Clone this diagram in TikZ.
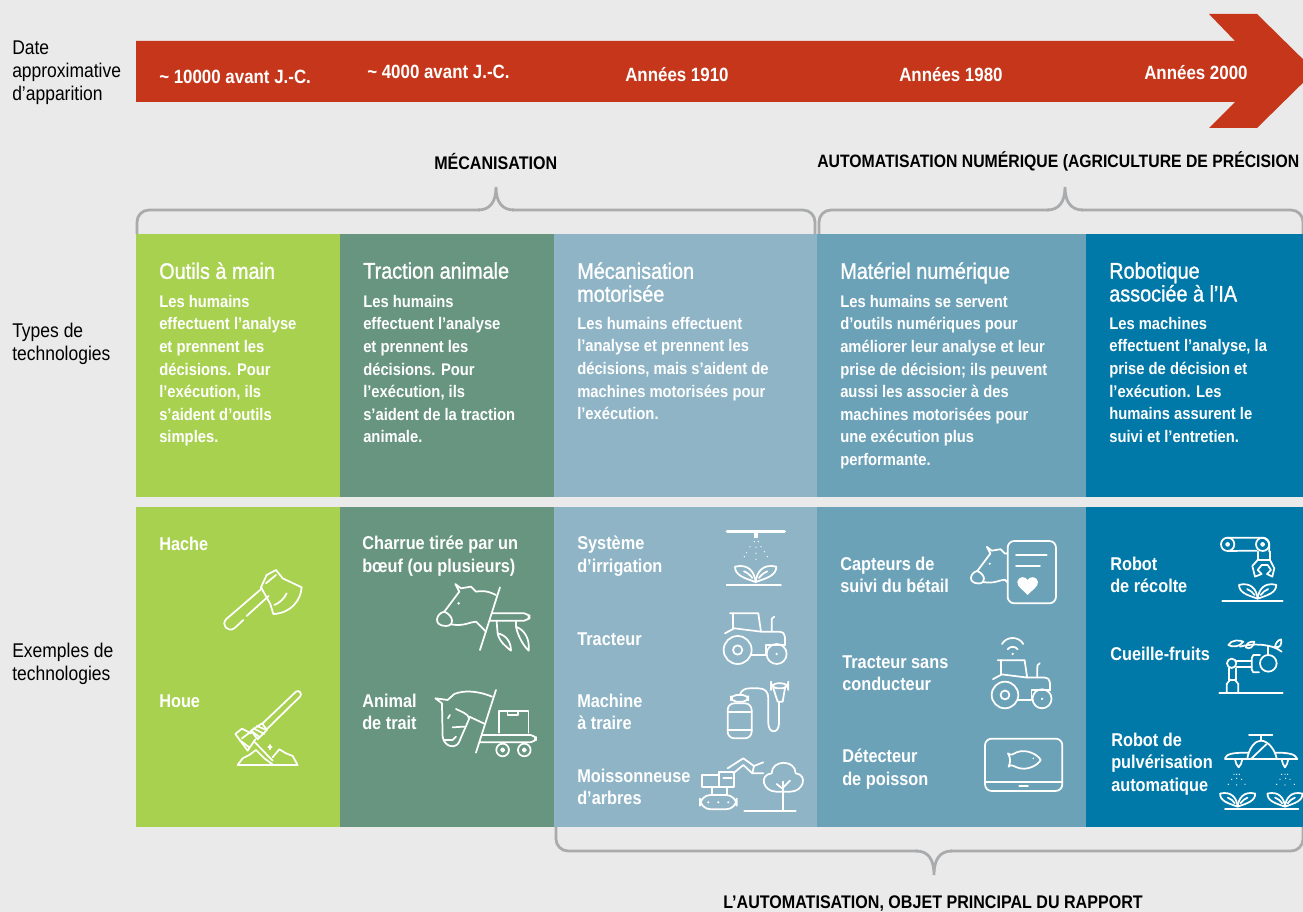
\documentclass[tikz,border=0pt]{standalone}
\usepackage{fontspec}
\setmainfont[FakeStretch=0.88]{Liberation Sans}
\newfontfamily\headfont[FakeStretch=0.88,FakeBold=1.2]{Liberation Sans}
\usepackage{tikz}
\usetikzlibrary{positioning}
\definecolor{pagegrey}{HTML}{EAEAEA}
\definecolor{arrowred}{HTML}{C6361A}
\definecolor{bracegrey}{HTML}{A9ABAD}
\definecolor{toolgreen}{HTML}{A8D14F}
\definecolor{oxgreen}{HTML}{67957F}
\definecolor{motorblue}{HTML}{8FB4C6}
\definecolor{digitalblue}{HTML}{6CA2B8}
\definecolor{robotblue}{HTML}{0079A8}
\tikzset{iconline/.style={draw=white,line width=1.3pt,line cap=round,line join=round}}
\tikzset{
plant/.pic={
\draw[iconline] (0,0) .. controls (-3,-30) and (-22,-56) .. (-62,-46) .. controls (-62,-20) and (-35,-12) .. (0,0);
\draw[iconline] (0,0) .. controls (3,-30) and (22,-56) .. (62,-46) .. controls (62,-20) and (35,-12) .. (0,0);
\draw[iconline] (-35,-32) .. controls (-25,-28) and (-15,-20) .. (-10,-12);
\draw[iconline] (35,-32) .. controls (25,-28) and (15,-20) .. (10,-12);
},
tractor/.pic={
\draw[iconline] (0,0) circle[radius=42];
\draw[iconline] (0,0) circle[radius=14];
\draw[iconline] (117,12) circle[radius=30];
\fill[white] (117,12) circle[radius=4];
\draw[iconline] (-23,-110) -- (62,-110) -- (70,-55);
\draw[iconline] (-13,-110) -- (-13,-65);
\draw[iconline] (-38,-50) .. controls (-25,-60) .. (-10,-65) -- (70,-55) -- (125,-55) .. controls (138,-52) .. (142,-38) -- (142,-15);
\draw[iconline] (42,15) -- (84,15) -- (84,-15) -- (142,-15);
\draw[iconline] (102,-55) -- (102,-85) .. controls (102,-95) .. (110,-100);
},
cowhead/.pic={
\draw[iconline] (155,-73) .. controls (125,-88) and (110,-85) .. (95,-83) -- (80,-98) -- (50,-93) -- (33,-106) -- (45,-83) -- (0,-23);
\draw[iconline] (20,15) .. controls (60,22) and (75,8) .. (95,7) -- (125,37);
\draw[iconline] (0,-23) .. controls (-25,-18) and (-35,20) .. (5,20) .. controls (30,20) and (30,-10) .. (0,-23);
\fill[white] (43,-48) circle[radius=4];
}}
\begin{document}
\begin{tikzpicture}[x=0.75pt,y=-0.75pt,
legend/.style={inner sep=0pt,align=left,anchor=west,font=\fontsize{14.9}{17.25}\selectfont},
datetext/.style={inner sep=0pt,anchor=west,white,font=\fontsize{14.4}{16}\bfseries\selectfont},
phasetext/.style={inner sep=0pt,anchor=west,black,font=\fontsize{13.7}{16}\bfseries\selectfont},
panel/.style={inner sep=0pt,outer sep=0pt,anchor=north west,minimum height=#1*0.75pt},
headtext/.style={inner sep=0pt,anchor=north west,align=left,white,font=\fontsize{16.9}{17.2}\headfont\selectfont},
bodytext/.style={inner sep=0pt,anchor=north west,align=left,white,font=\fontsize{12.6}{16.9}\bfseries\selectfont},
itemtext/.style={inner sep=0pt,anchor=west,align=left,white,font=\fontsize{13.9}{16.9}\bfseries\selectfont},
bracket/.style={draw=bracegrey,line width=2.1pt,rounded corners=9pt},
zoomA/.style={shift={(136,510)},scale=0.3333},
zoomB/.style={shift={(555,510)},scale=0.3333},
zoomC/.style={shift={(820,510)},scale=0.3333},
zoomD/.style={shift={(1085,510)},scale=0.3333},
]
\useasboundingbox (0,0) rectangle (1303,912);
\fill[pagegrey] (0,0) rectangle (1303,912);

%Arrow
\fill[arrowred] (136,41) -- (1235,41) -- (1209,14) -- (1257,14) -- (1315,71) -- (1257,128) -- (1209,128) -- (1235,102) -- (136,102) -- cycle;

%Panels
\node[panel=263,fill=toolgreen,minimum width=153pt] (toolstop) at (136,234) {};
\node[panel=263,fill=oxgreen,minimum width=160.5pt] (oxtop) at (340,234) {};
\node[panel=263,fill=motorblue,minimum width=197.25pt] (motortop) at (554,234) {};
\node[panel=263,fill=digitalblue,minimum width=201.75pt] (digitaltop) at (817,234) {};
\node[panel=263,fill=robotblue,minimum width=162.75pt] (robottop) at (1086,234) {};
\node[panel=320,fill=toolgreen,minimum width=153pt] (toolsbottom) at (136,507) {};
\node[panel=320,fill=oxgreen,minimum width=160.5pt] (oxbottom) at (340,507) {};
\node[panel=320,fill=motorblue,minimum width=197.25pt] (motorbottom) at (554,507) {};
\node[panel=320,fill=digitalblue,minimum width=201.75pt] (digitalbottom) at (817,507) {};
\node[panel=320,fill=robotblue,minimum width=162.75pt] (robotbottom) at (1086,507) {};

%Brackets
\draw[bracket] (137,234) -- (137,210) -- (496,210);
\draw[bracket] (815,234) -- (815,210) -- (496,210);
\draw[draw=pagegrey,line width=3pt] (480,210) -- (512,210);
\draw[draw=bracegrey,line width=2.1pt] (478,210) .. controls (490,210) and (496,202) .. (496,187) .. controls (496,202) and (502,210) .. (514,210);
\draw[bracket] (819,234) -- (819,210) -- (1065,210);
\draw[bracket] (1303,234) -- (1303,210) -- (1065,210);
\draw[draw=pagegrey,line width=3pt] (1049,210) -- (1081,210);
\draw[draw=bracegrey,line width=2.1pt] (1047,210) .. controls (1059,210) and (1065,202) .. (1065,187) .. controls (1065,202) and (1071,210) .. (1083,210);
\draw[bracket] (556,827) -- (556,851) -- (934,851);
\draw[bracket] (1303,827) -- (1303,851) -- (934,851);
\draw[draw=pagegrey,line width=3pt] (918,851) -- (950,851);
\draw[draw=bracegrey,line width=2.1pt] (916,851) .. controls (928,851) and (934,859) .. (934,875) .. controls (934,859) and (940,851) .. (952,851);

%Left column
\node[legend] (datelabel) at (12,73) {Date\\approximative\\d’apparition};
\node[legend] (typeslabel) at (12,344) {Types de\\technologies};
\node[legend] (exampleslabel) at (12,664) {Exemples de\\technologies};

%Dates
\node[datetext] (date1) at (159,77) {\textasciitilde{} 10000 avant J.-C.};
\node[datetext] (date2) at (367,72) {\textasciitilde{} 4000 avant J.-C.};
\node[datetext] (date3) at (625,75) {Années 1910};
\node[datetext] (date4) at (899,75) {Années 1980};
\node[datetext] (date5) at (1144,73) {Années 2000};

%Phases
\node[phasetext] (phase1) at (434,161) {MÉCANISATION};
\node[phasetext,font=\fontsize{13.45}{16}\bfseries\selectfont] (phase2) at (817,161) {AUTOMATISATION NUMÉRIQUE (AGRICULTURE DE PRÉCISION};
\node[phasetext] (phase3) at (723,904) {L’AUTOMATISATION, OBJET PRINCIPAL DU RAPPORT};

%Headings and texts
\node[headtext] (head1) at (159,262) {Outils à main};
\node[bodytext] (body1) at (159,295) {Les humains\\effectuent l’analyse\\et prennent les\\décisions. Pour\\l’exécution, ils\\s’aident d’outils\\simples.};
\node[headtext] (head2) at (363,262) {Traction animale};
\node[bodytext] (body2) at (363,295) {Les humains\\effectuent l’analyse\\et prennent les\\décisions. Pour\\l’exécution, ils\\s’aident de la traction\\animale.};
\node[headtext] (head3) at (577,262) {Mécanisation\\motorisée};
\node[bodytext] (body3) at (577,317) {Les humains effectuent\\l’analyse et prennent les\\décisions, mais s’aident de\\machines motorisées pour\\l’exécution.};
\node[headtext] (head4) at (840,262) {Matériel numérique};
\node[bodytext] (body4) at (840,295) {Les humains se servent\\d’outils numériques pour\\améliorer leur analyse et leur\\prise de décision; ils peuvent\\aussi les associer à des\\machines motorisées pour\\une exécution plus\\performante.};
\node[headtext] (head5) at (1109,262) {Robotique\\associée à l’IA};
\node[bodytext] (body5) at (1109,317) {Les machines\\effectuent l’analyse, la\\prise de décision et\\l’exécution. Les\\humains assurent le\\suivi et l’entretien.};

%Examples
\node[itemtext] (hache) at (159,544) {Hache};
\node[itemtext] (houe) at (159,701) {Houe};
\node[itemtext] (charrue) at (362,556) {Charrue tirée par un\\bœuf (ou plusieurs)};
\node[itemtext] (trait) at (362,712) {Animal\\de trait};
\node[itemtext] (irrigation) at (577,556) {Système\\d’irrigation};
\node[itemtext] (tracteur) at (577,639) {Tracteur};
\node[itemtext] (traire) at (577,712) {Machine\\à traire};
\node[itemtext] (moisson) at (577,787) {Moissonneuse\\d’arbres};
\node[itemtext] (capteurs) at (840,575) {Capteurs de\\suivi du bétail};
\node[itemtext] (sansconducteur) at (842,673) {Tracteur sans\\conducteur};
\node[itemtext] (poisson) at (842,769) {Détecteur\\de poisson};
\node[itemtext] (recolte) at (1110,575) {Robot\\de récolte};
\node[itemtext] (cueille) at (1110,654) {Cueille-fruits};
\node[itemtext] (pulverisation) at (1111,764) {Robot de\\pulvérisation\\automatique};

%Axe and hoe
\begin{scope}[zoomA]
\draw[iconline] (375,232) -- (392,195) -- (420,180) -- (440,205) -- (497,232) .. controls (495,270) and (465,310) .. (412,312) -- (403,282) -- cycle;
\draw[iconline] (378,235) -- (270,328) .. controls (255,345) and (275,368) .. (295,355) -- (322,330);
\draw[iconline] (332,318) -- (398,258);
\draw[iconline] (452,250) .. controls (445,265) and (430,280) .. (415,285);
\draw[iconline] (390,220) -- (420,195);
\draw[iconline] (378,642) -- (480,545) .. controls (490,538) and (500,552) .. (492,560) -- (393,657);
\draw[iconline] (345,662) -- (378,640) -- (393,660) -- (365,688) -- cycle;
\draw[iconline] (352,655) -- (385,672) (345,662) -- (372,682) (362,648) -- (392,660);
\draw[iconline] (298,672) -- (318,656) -- (345,670) (298,672) -- (335,722) -- (358,688);
\draw[iconline] (318,685) -- (345,665) (310,690) -- (340,712);
\draw[iconline] (355,695) -- (410,752);
\draw[iconline] (305,765) -- (485,765) -- (470,738) -- (450,730) -- (430,718) -- (410,742);
\draw[iconline] (305,765) -- (320,745) -- (340,735) -- (360,720) -- (385,745) -- (412,765);
\draw[iconline] (402,705) -- (402,718) (397,710) -- (407,710);
\end{scope}

%Ox and horse
\begin{scope}[zoomA]
\pic[scale=0.3333] at (925,328) {cowhead};
\draw[iconline] (1092,232) -- (1032,420);
\draw[iconline,rounded corners=4pt] (1068,310) -- (1181,310) -- (1181,332) -- (1062,332);
\draw[iconline] (1082,335) -- (1085,370) .. controls (1110,375) and (1125,395) .. (1125,422) .. controls (1110,410) and (1090,395) .. (1085,370);
\draw[iconline] (1140,335) -- (1140,350) .. controls (1165,360) and (1182,385) .. (1178,422) .. controls (1160,405) and (1145,375) .. (1140,350);
\draw[iconline] (1068,560) .. controls (1020,540) and (980,542) .. (955,552) -- (935,570) -- (898,565) -- (918,580) -- (920,680) .. controls (925,712) and (960,718) .. (970,695) .. controls (980,670) and (990,650) .. (1000,625) .. controls (995,610) and (975,605) .. (960,597);
\draw[iconline] (1000,620) -- (1047,642);
\draw[iconline] (950,652) -- (985,650);
\draw[iconline] (925,690) -- (950,690) -- (960,680);
\draw[iconline] (936,625) -- (942,615);
\draw[iconline] (1080,540) -- (1020,728);
\draw[iconline,rounded corners=4pt] (1037,675) -- (1200,675) -- (1200,697) -- (1030,697);
\draw[iconline] (1088,668) -- (1088,603) -- (1178,603) -- (1178,668);
\draw[iconline] (1115,605) -- (1115,614) -- (1146,614) -- (1146,605);
\foreach \wheelx in {1100,1165} {
\draw[iconline] (\wheelx,720) circle[radius=19];
\draw[iconline] (\wheelx,720) circle[radius=5];
}
\end{scope}

%Motorised
\begin{scope}[zoomB]
\draw[iconline,line width=2.6pt] (517,65) -- (688,65);
\fill[white] (596,70) rectangle (610,85);
\foreach \sprayx/\sprayy in {598/95,610/95,585/110,603/112,618/110,575/128,603/130,628/125,568/140,603/148,637/140} {
\fill[white] (\sprayx,\sprayy) circle[radius=2];
}
\pic[scale=0.3333] at (602,216) {plant};
\draw[iconline] (515,224) -- (678,224);
\pic[scale=0.3333] at (548,420) {tractor};
\draw[iconline,rounded corners=5pt] (518,685) rectangle (590,580);
\draw[iconline,rounded corners=4pt] (528,575) rectangle (580,555);
\draw[iconline] (518,605) -- (590,605) (518,660) -- (590,660);
\draw[iconline] (555,553) .. controls (560,540) and (570,535) .. (585,535) -- (610,535) .. controls (630,535) and (640,545) .. (640,565) -- (640,640) .. controls (640,672) and (672,672) .. (672,640) -- (672,578);
\draw[iconline,rounded corners=5pt] (648,520) rectangle (700,535);
\draw[iconline] (655,535) -- (668,575) -- (683,575) -- (690,535);
\draw[iconline,rounded corners=8pt] (435,855) rectangle (545,898);
\foreach \trackx in {460,490,520} {
\fill[white] (\trackx,877) circle[radius=3.5];
}
\draw[iconline] (470,855) -- (470,835) (515,855) -- (515,835);
\draw[iconline] (440,795) rectangle (492,832);
\draw[iconline] (492,785) rectangle (538,832);
\draw[iconline] (505,805) -- (530,805);
\draw[iconline] (518,775) -- (565,745) -- (597,768) -- (625,757);
\draw[iconline] (535,790) -- (565,765) -- (592,790) -- (625,790);
\draw[iconline] (597,768) -- (592,790);
\draw[iconline] (663,845) .. controls (625,845) and (610,795) .. (650,790) .. controls (650,748) and (722,748) .. (722,790) .. controls (760,795) and (745,845) .. (707,845) -- cycle;
\draw[iconline] (685,900) -- (685,815);
\draw[iconline] (685,832) -- (705,812) (665,822) -- (685,838);
\draw[iconline] (568,902) -- (722,902);
\end{scope}

%Digital
\begin{scope}[zoomC]
\pic[scale=0.29] at (472,203) {cowhead};
\fill[digitalblue] (565,95) rectangle (615,278);
\draw[iconline,rounded corners=5pt] (563,93) rectangle (708,280);
\draw[iconline] (588,135) -- (680,135) (588,168) -- (660,168);
\fill[white] (623,255) .. controls (610,240) and (590,230) .. (592,215) .. controls (595,198) and (618,198) .. (623,210) .. controls (628,198) and (651,198) .. (654,215) .. controls (656,230) and (636,240) .. (623,255) -- cycle;
\pic[scale=0.3167] at (555,555) {tractor};
\fill[white] (578,432) circle[radius=4];
\draw[iconline] (563,418) .. controls (570,408) and (586,408) .. (593,418);
\draw[iconline] (546,402) .. controls (560,378) and (596,378) .. (610,402);
\draw[iconline,rounded corners=5pt] (495,686) rectangle (727,843);
\draw[iconline] (495,815) -- (727,815);
\draw[iconline] (598,828) -- (624,828);
\draw[iconline] (590,727) .. controls (620,715) and (655,735) .. (662,750) .. controls (655,765) and (620,785) .. (590,772) .. controls (580,768) and (572,762) .. (566,770) .. controls (572,755) and (572,745) .. (564,730) .. controls (572,738) and (580,732) .. (590,727);
\fill[white] (640,745) circle[radius=2.5];
\end{scope}

%Robots
\begin{scope}[zoomD]
\draw[iconline] (428,103) circle[radius=20];
\draw[iconline] (533,103) circle[radius=20];
\draw[iconline] (428,103) circle[radius=5];
\draw[iconline] (533,103) circle[radius=5];
\draw[iconline,rounded corners=6pt] (428,83) -- (553,83) -- (553,125);
\draw[iconline] (428,123) -- (515,122);
\draw[iconline] (520,125) -- (520,150) -- (555,150) -- (555,125);
\draw[iconline] (518,150) -- (502,168) -- (510,200) -- (530,192) -- (518,180) -- (530,165) -- (548,165) -- (558,180) -- (546,192) -- (562,200) -- (568,175) -- (555,150);
\pic[scale=0.3] at (518,266) {plant};
\draw[iconline] (412,273) -- (593,273);
\draw[iconline] (403,548) -- (593,548);
\draw[iconline] (425,548) -- (425,522) -- (435,510) -- (450,510) -- (460,522) -- (460,548);
\draw[iconline] (432,510) -- (432,475) (452,510) -- (452,475);
\draw[iconline] (440,460) circle[radius=14];
\draw[iconline] (455,452) -- (500,452) (455,470) -- (500,470);
\draw[iconline] (525,435) -- (505,435) -- (500,445) -- (500,478) -- (505,487) -- (522,487);
\draw[iconline] (550,460) circle[radius=25];
\draw[iconline] (550,435) -- (550,408);
\draw[iconline] (465,410) .. controls (500,400) and (560,400) .. (590,425);
\draw[iconline] (430,405) .. controls (440,388) and (465,390) .. (475,395) .. controls (465,412) and (440,412) .. (430,405);
\draw[iconline] (482,412) .. controls (485,398) and (495,395) .. (508,395) .. controls (505,410) and (495,420) .. (482,412);
\draw[iconline] (570,410) .. controls (572,398) and (580,390) .. (588,388) .. controls (592,400) and (585,418) .. (570,410);
\draw[iconline] (492,675) -- (562,675) (527,675) -- (527,692);
\draw[iconline] (487,745) .. controls (492,715) and (510,692) .. (527,692) .. controls (550,692) and (570,720) .. (575,745);
\draw[iconline] (500,745) -- (545,702);
\draw[iconline] (420,745) .. controls (425,732) and (440,728) .. (490,728);
\draw[iconline] (572,728) .. controls (610,728) and (630,732) .. (636,745);
\draw[iconline] (420,747) -- (637,747);
\draw[iconline] (450,748) -- (454,762) -- (461,772) -- (468,762) -- (472,748);
\draw[iconline] (590,748) -- (594,762) -- (600,772) -- (606,762) -- (610,748);
\foreach \dropx/\dropy in {447/793,455/793,463/793,440/808,455/805,470/808,430/823,455/825,480/823,590/793,600/793,608/793,585/808,602/805,615/808,575/823,600/825,628/823} {
\fill[white] (\dropx,\dropy) circle[radius=2];
}
\pic[scale=0.2833] at (458,890) {plant};
\pic[scale=0.2833] at (600,890) {plant};
\draw[iconline] (420,897) -- (640,897);
\end{scope}
\end{tikzpicture}
\end{document}
